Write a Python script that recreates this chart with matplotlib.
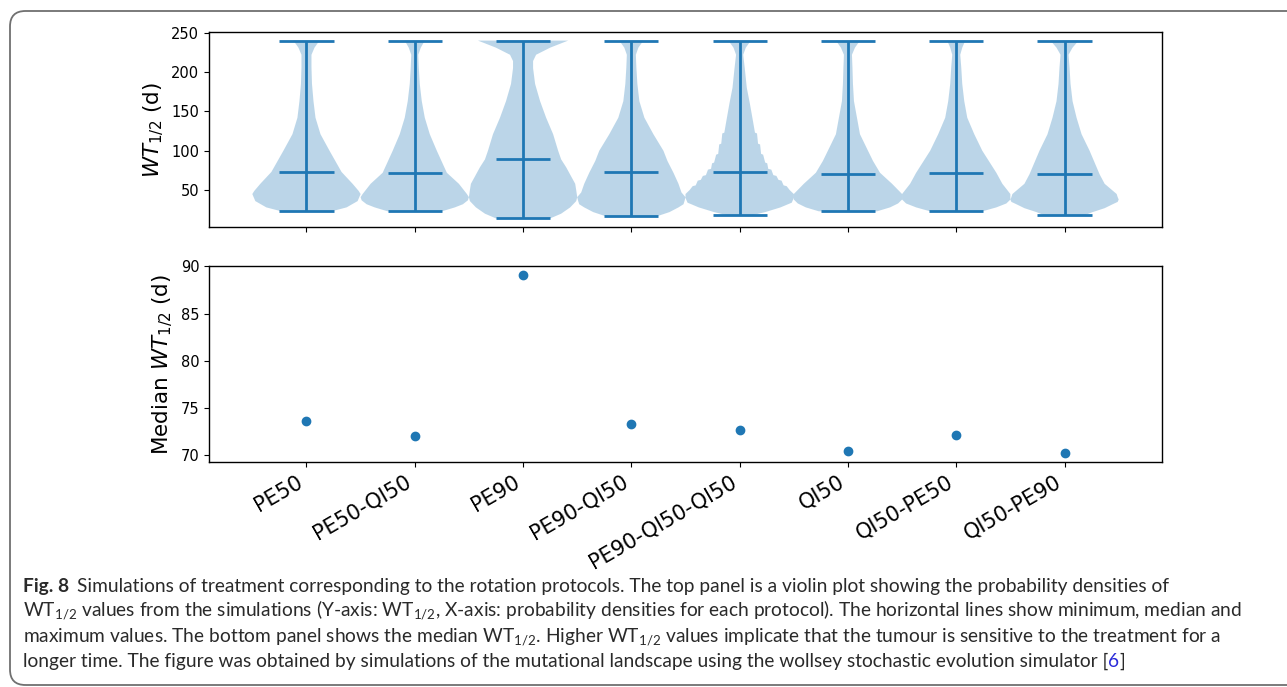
import matplotlib
matplotlib.use('Agg')
import matplotlib.pyplot as plt
from matplotlib.patches import FancyBboxPatch
import numpy as np

plt.rcParams['font.family'] = ['DejaVu Sans']

# ---------------------------------------------------------
# Data
# ---------------------------------------------------------
protocols = ['PE50', 'PE50-QI50', 'PE90', 'PE90-QI50', 'PE90-QI50-QI50',
             'QI50', 'QI50-PE50', 'QI50-PE90']
median_wt = [73.6, 72.0, 89.1, 73.3, 72.6, 70.4, 72.1, 70.2]
min_wt = [23, 23, 14, 16.5, 18, 23, 23, 18]
max_wt = [240, 240, 240, 240, 240, 240, 240, 240]

# density profiles: WT1/2 value -> relative half-width of the violin
dens_y = [
    [23, 28, 36, 45, 49, 58, 73, 100, 121, 142, 163, 185, 206, 222, 231, 240],
    [23, 28, 32, 37, 41, 45, 58, 72, 100, 121, 142, 163, 185, 206, 222, 231, 240],
    [14, 20, 28, 36, 41, 50, 58, 72, 79, 89, 100, 121, 142, 163, 185, 205, 214, 222, 231, 240],
    [16.5, 22, 28, 32, 36, 41, 47, 58, 72, 87, 100, 121, 142, 163, 185, 206, 222, 231, 240],
    [18, 22, 28, 34, 40, 45, 50, 55, 56, 62, 63, 68, 69, 76, 77, 84, 85, 95, 96, 108, 109,
     122, 123, 138, 160, 180, 205, 222, 231, 240],
    [23, 28, 33, 38, 42, 45, 58, 72, 87, 100, 121, 142, 163, 185, 206, 222, 231, 240],
    [23, 28, 33, 38, 42, 45, 58, 72, 100, 121, 142, 163, 185, 206, 222, 231, 240],
    [18, 22, 27, 32, 35, 38, 41, 45, 58, 70, 100, 121, 142, 163, 185, 206, 222, 231, 240],
]
dens_w = [
    [25, 40, 51, 54, 52, 46, 35, 23, 14, 9, 7, 5.5, 5, 5, 8, 13],
    [27, 40, 48, 53, 54, 52, 44, 32, 22, 15, 10, 7, 5, 4, 3.5, 6, 10],
    [27, 38, 47, 53, 54, 53, 52, 46, 43, 38, 35, 30, 23, 17, 12, 10, 10, 13, 27, 45],
    [25, 38, 47, 52, 53, 54, 50, 47, 42, 36, 32, 22, 13, 8, 6, 5, 4.5, 7, 12],
    [12, 25, 40, 51, 53, 53, 49, 46, 43, 41, 38, 36, 33, 31, 28, 27, 25, 23, 21, 20, 18,
     17, 15, 13, 10, 7, 5, 3.5, 6, 11],
    [29, 42, 50, 54, 54, 54, 44, 32, 25, 20, 12, 9, 6, 5, 4.5, 4, 7, 12],
    [26, 40, 50, 54, 54, 54, 46, 40, 26, 18, 11, 8, 6, 5, 4, 6, 9],
    [20, 28, 40, 48, 53, 54, 53, 52, 40, 35, 25, 17, 12, 8, 6, 5, 4, 8, 14],
]

caption_lines = [
    "Simulations of treatment corresponding to the rotation protocols. The top panel is a violin plot showing the probability densities of",
    r"WT$\mathregular{_{1/2}}$ values from the simulations (Y-axis: WT$\mathregular{_{1/2}}$, X-axis: probability densities for each protocol). The horizontal lines show minimum, median and",
    r"maximum values. The bottom panel shows the median WT$\mathregular{_{1/2}}$. Higher WT$\mathregular{_{1/2}}$ values implicate that the tumour is sensitive to the treatment for a",
    "longer time. The figure was obtained by simulations of the mutational landscape using the wollsey stochastic evolution simulator [",
]

# ---------------------------------------------------------
# Figure
# ---------------------------------------------------------
W, H = 1287, 687
fig = plt.figure(figsize=(W / 100, H / 100), dpi=100)

ax1 = fig.add_axes([209 / W, 1 - 227.3 / H, (1162 - 209) / W, (227.3 - 31.7) / H])
ax2 = fig.add_axes([209 / W, 1 - 462 / H, (1162 - 209) / W, (462 - 266) / H], sharex=ax1)

positions = np.arange(1, len(protocols) + 1)
vpstats = []
for i in range(len(protocols)):
    vpstats.append({'coords': np.array(dens_y[i]), 'vals': np.array(dens_w[i], dtype=float),
                    'mean': median_wt[i], 'median': median_wt[i],
                    'min': min_wt[i], 'max': max_wt[i]})

parts = ax1.violin(vpstats, positions=positions, widths=1.0, showmedians=True)
for key in ['cmaxes', 'cmins', 'cbars', 'cmedians']:
    parts[key].set_color('#1f77b4')
    parts[key].set_linewidth(2.0)
for body in parts['bodies']:
    body.set_facecolor('#1f77b4')
    body.set_edgecolor('none')
    body.set_alpha(0.3)

ax1.set_ylabel(r'$WT_{1/2}$ (d)', fontsize=15.5)
ax1.tick_params(labelsize=10.5, labelbottom=False)

ax2.scatter(positions, median_wt, color='#1f77b4', s=36)
ax2.set_ylabel(r'Median $WT_{1/2}$ (d)', fontsize=15.5)
ax2.set_xticks(positions)
ax2.set_xticklabels(protocols, rotation=30, ha='right', fontsize=15, family='DejaVu Sans')
ax2.tick_params(axis='y', labelsize=10.5)

for ax in (ax1, ax2):
    for s in ax.spines.values():
        s.set_linewidth(1.0)

fig.align_ylabels([ax1, ax2])

# rounded frame
frame = FancyBboxPatch((10 / W, 2 / H), 1.05, (H - 13) / H,
                       boxstyle='round,pad=0,rounding_size=0.012',
                       transform=fig.transFigure, facecolor='none',
                       edgecolor='#707070', linewidth=1.3, mutation_aspect=W / H)
fig.patches.append(frame)

# caption
cap_font = ['Lato', 'DejaVu Sans']
cap_color = '#2a2a2a'
baselines = [592, 617, 642, 667]
renderer = fig.canvas.get_renderer()

# fit the font size so the second line spans the same width as in the reference
probe = fig.text(23 / W, 0.5, caption_lines[1], fontsize=14, family=list(cap_font))
cap_size = 14 * (1245 - 23) / probe.get_window_extent(renderer).width
probe.remove()

t = fig.text(23 / W, 1 - baselines[0] / H, 'Fig. 8', fontsize=cap_size, fontweight='bold',
             family=list(cap_font), color=cap_color, va='baseline')
x_next = t.get_window_extent(renderer).x1 + 8
fig.text(x_next / W, 1 - baselines[0] / H, caption_lines[0], fontsize=cap_size,
         family=list(cap_font), color=cap_color, va='baseline')
for line, yb in zip(caption_lines[1:], baselines[1:]):
    t = fig.text(23 / W, 1 - yb / H, line, fontsize=cap_size, family=list(cap_font),
                 color=cap_color, va='baseline')
x_next = t.get_window_extent(renderer).x1
t6 = fig.text(x_next / W, 1 - baselines[3] / H, '6', fontsize=cap_size, family=list(cap_font),
              color='#2b2bd9', va='baseline')
x_next = t6.get_window_extent(renderer).x1
fig.text(x_next / W, 1 - baselines[3] / H, ']', fontsize=cap_size, family=list(cap_font),
         color=cap_color, va='baseline')

fig.savefig('out.png', dpi=100)
